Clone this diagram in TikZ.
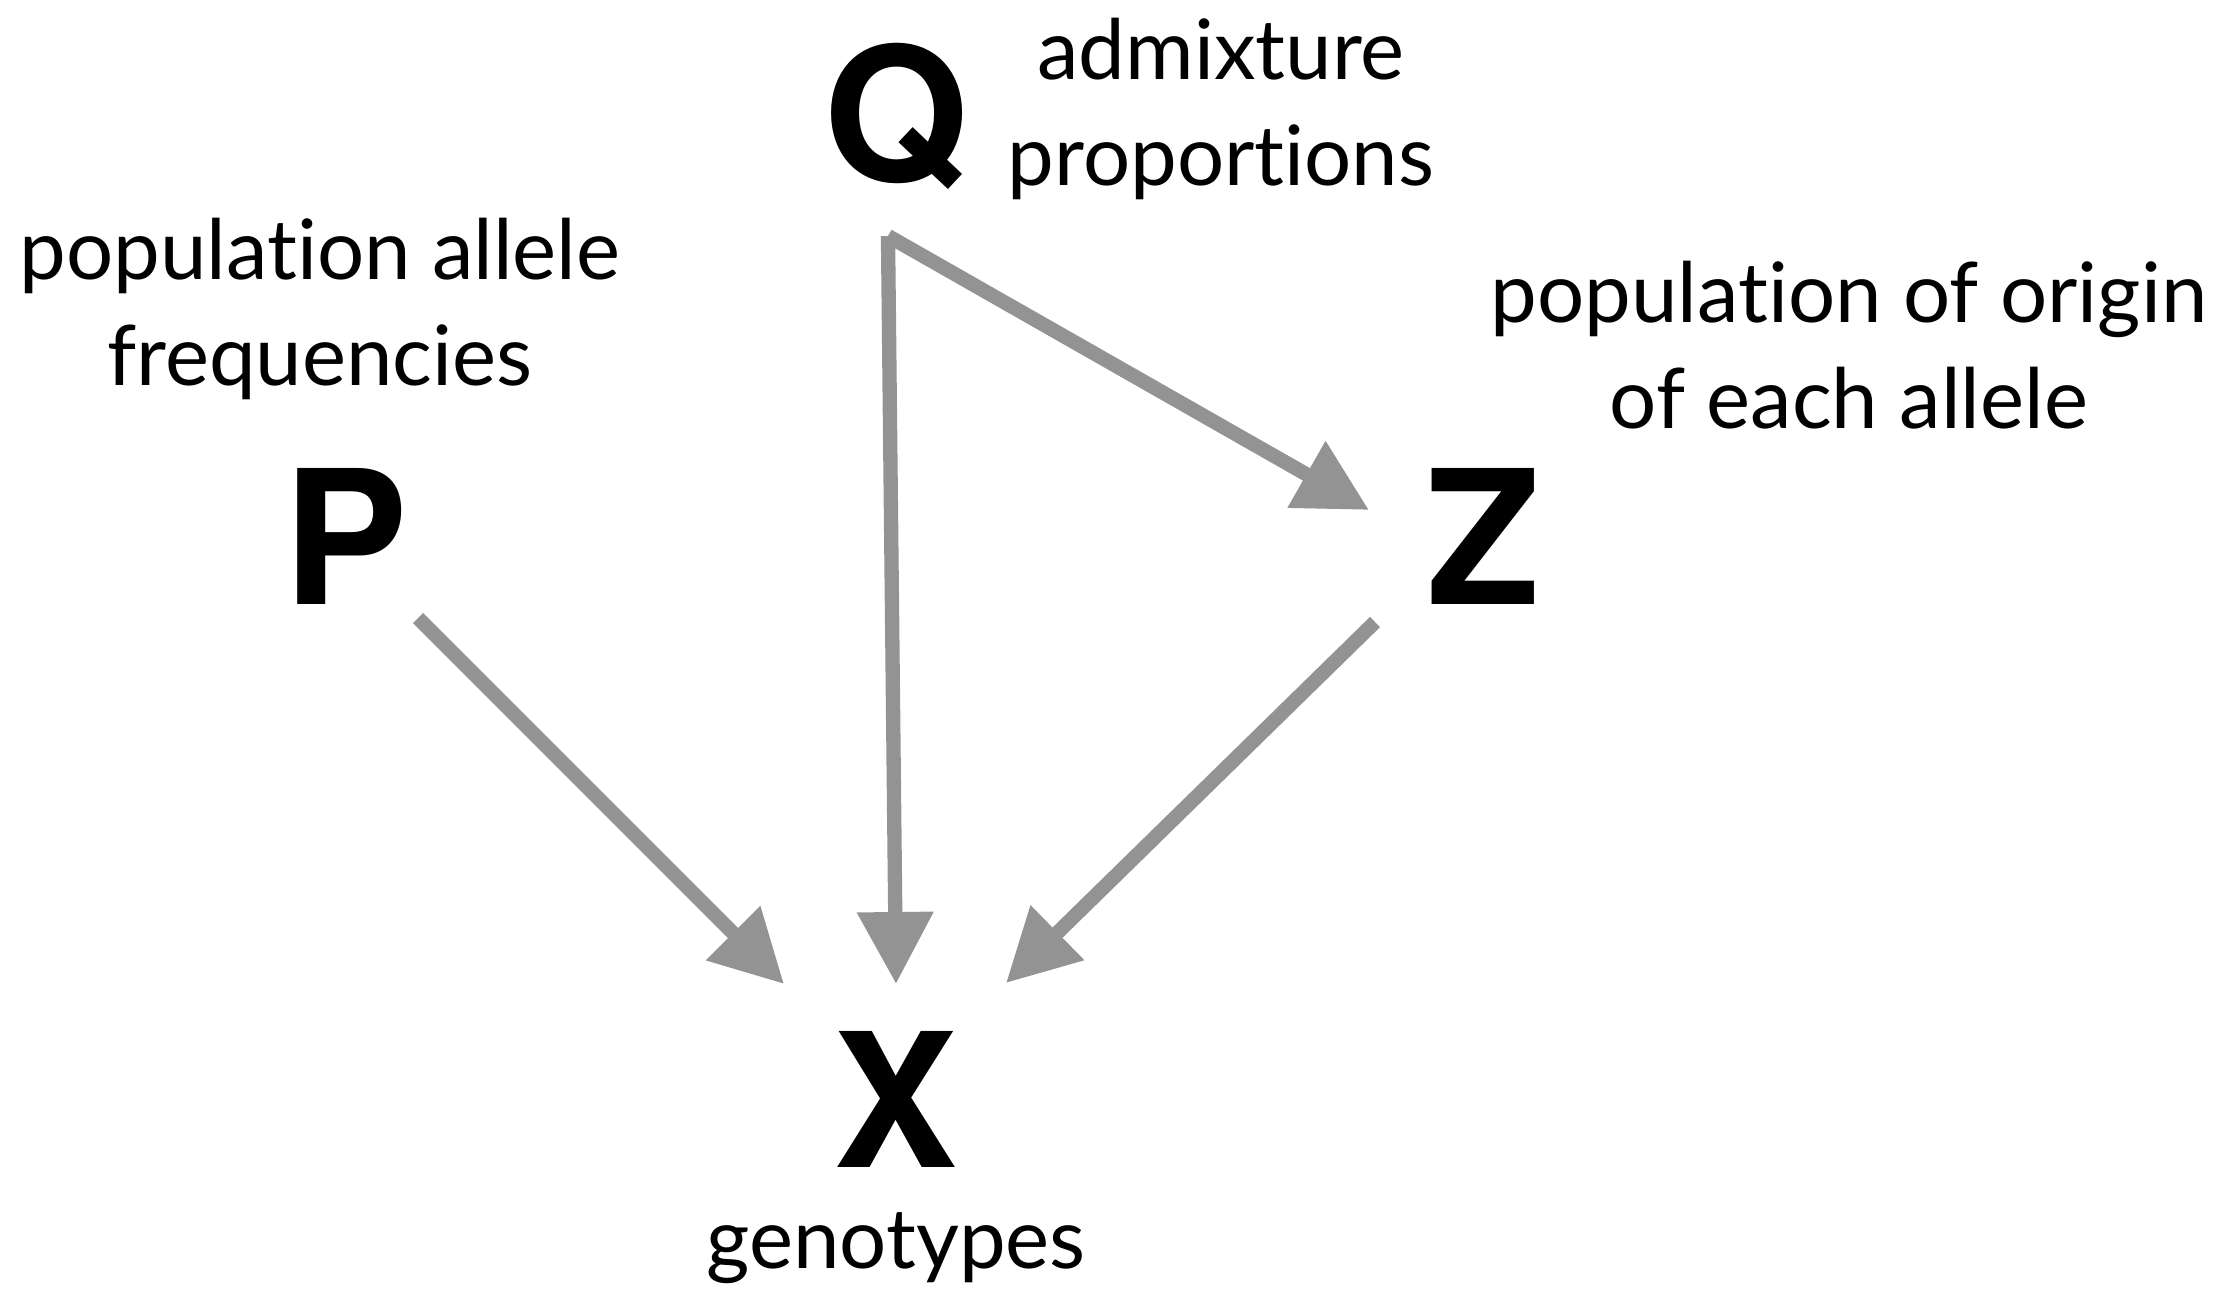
\documentclass[tikz,border=0pt]{standalone}
\usepackage{fontspec}
\setmainfont{Lato}[Ligatures={NoCommon,NoRare,NoContextual}]
\newfontfamily\letterfont{TeX Gyre Heros}
\usetikzlibrary{arrows.meta,calc}
\definecolor{arrowgray}{HTML}{939393}
\begin{document}
\begin{tikzpicture}[x=0.3pt,y=-0.3pt,
  letter/.style={inner sep=0pt, anchor=base, font=\letterfont\bfseries\fontsize{56}{60}\selectfont},
  lbl/.style={inner sep=0pt, anchor=base, font=\fontsize{25}{31.8}\selectfont},
  link/.style={draw=arrowgray, line width=4.3pt, line cap=butt, -{Triangle[length=21.6pt,width=21.9pt]}}
]
\useasboundingbox (0,0) rectangle (2238,1290);
% variables
\node[letter] (Q) at (896,181) {Q};
\node[letter] (P) at (346,604) {P};
\node[letter] (Z) at (1484,604) {Z};
\node[letter] (X) at (896,1167) {X};
% labels
\node[lbl] (lq) at (1221,79) {\begin{tabular}[t]{@{}c@{}}admixture\\proportions\end{tabular}};
\node[lbl] (lp) at (320,279) {\begin{tabular}[t]{@{}c@{}}population allele\\frequencies\end{tabular}};
\node[lbl] (lz) at (1849,322) {\begin{tabular}[t]{@{}c@{}}population of origin\\of each allele\end{tabular}};
\node[lbl] (lx) at (896,1268) {genotypes};
% connector ends
\coordinate (qs) at (888,236);
\coordinate (xq) at (896,984);
\coordinate (zq) at (1369,510);
\coordinate (ps) at (418,618);
\coordinate (xp) at (784,984);
\coordinate (zs) at (1375,622);
\coordinate (xz) at (1006,983);
% connectors
\draw[link] (qs) -- (xq);
\draw[link] (qs) -- (zq);
\draw[link] (ps) -- (xp);
\draw[link] (zs) -- (xz);
\end{tikzpicture}
\end{document}
